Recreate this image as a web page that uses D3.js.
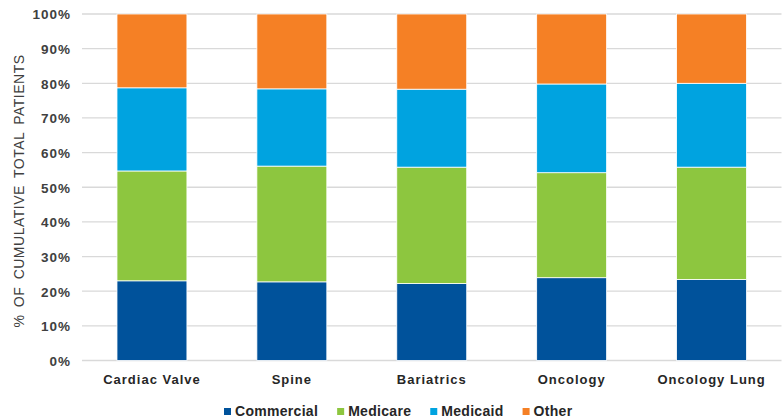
<!DOCTYPE html>
<html><head><meta charset="utf-8">
<script src="https://cdn.jsdelivr.net/npm/d3@7"></script>
<style>body{margin:0;background:#fff}svg{display:block}text{font-family:"Liberation Sans",Arial,sans-serif}</style>
</head><body><svg id="c" width="783" height="420"></svg>
<script>
const categories = ["Cardiac Valve","Spine","Bariatrics","Oncology","Oncology Lung"];
const seriesNames = ["Commercial","Medicare","Medicaid","Other"];
const commercial = [23.0, 22.7, 22.2, 23.9, 23.4];
const medicare   = [31.7, 33.4, 33.6, 30.3, 32.4];
const medicaid   = [24.0, 22.3, 22.5, 25.6, 24.2];
const other      = [21.3, 21.6, 21.7, 20.2, 20.0];
const colors = ["#00529B","#8DC63F","#00A3E0","#F58025"];
const yTicks = [0,10,20,30,40,50,60,70,80,90,100];

const svg = d3.select("#c");
const m = {left:82, right:1.5, top:14, bottom:59.5};
const W = 783, H = 420;
const x = d3.scaleBand().domain(categories).range([m.left, W-m.right]).paddingInner(0.5).paddingOuter(0.25);
const y = d3.scaleLinear().domain([0,100]).range([H-m.bottom, m.top]);

const rows = categories.map((c,i)=>({cat:c, Commercial:commercial[i], Medicare:medicare[i], Medicaid:medicaid[i], Other:other[i]}));
const stacked = d3.stack().keys(seriesNames)(rows);

// gridlines
svg.append("g").selectAll("line").data(yTicks).join("line")
  .attr("x1", m.left).attr("x2", W-m.right)
  .attr("y1", d=>y(d)).attr("y2", d=>y(d))
  .attr("stroke","#d9d9d9").attr("stroke-width",1.3);

// y axis labels
const yAxis = d3.axisLeft(y).tickValues(yTicks).tickFormat(d=>d+"%").tickSize(0).tickPadding(11);
const ya = svg.append("g").attr("transform",`translate(${m.left},0)`).call(yAxis);
ya.select(".domain").remove();
ya.selectAll("text").attr("font-size",13.5).attr("font-weight","bold").attr("fill","#404040")
  .attr("letter-spacing",1).attr("dy","0.36em")
  .style("font-family",'"Liberation Sans",Arial,sans-serif');

// bars
svg.append("g").selectAll("g").data(stacked).join("g")
  .attr("fill",(d,i)=>colors[i])
  .selectAll("rect").data(d=>d).join("rect")
  .attr("x", d=>x(d.data.cat)).attr("width", x.bandwidth())
  .attr("y", d=>y(d[1])).attr("height", d=>y(d[0])-y(d[1]))
  .attr("stroke","#fff").attr("stroke-width",0.8);

// x axis labels
const xAxis = d3.axisBottom(x).tickSize(0).tickPadding(14.5);
const xa = svg.append("g").attr("transform",`translate(0,${H-m.bottom})`).call(xAxis);
xa.select(".domain").remove();
xa.selectAll("text").attr("font-size",13).attr("font-weight","bold").attr("fill","#262626")
  .attr("letter-spacing",1)
  .style("font-family",'"Liberation Sans",Arial,sans-serif');

// y title
svg.append("text").attr("transform","translate(24,191) rotate(-90)")
  .attr("text-anchor","middle").attr("font-size",14).attr("fill","#404040")
  .attr("letter-spacing",0.5).attr("word-spacing",3)
  .text("% OF CUMULATIVE TOTAL PATIENTS");

// legend
const leg = svg.append("g").attr("transform","translate(224,416)");
let cx = 0;
seriesNames.forEach((s,i)=>{
  const g = leg.append("g").attr("transform",`translate(${cx},0)`);
  g.append("rect").attr("x",0).attr("y",-8).attr("width",7).attr("height",7).attr("fill",colors[i]);
  const t = g.append("text").attr("x",11).attr("y",0).attr("font-size",14).attr("font-weight","bold")
    .attr("letter-spacing",0.3).attr("fill","#262626").text(s);
  cx += 11 + t.node().getComputedTextLength() + 19;
});
</script></body></html>
